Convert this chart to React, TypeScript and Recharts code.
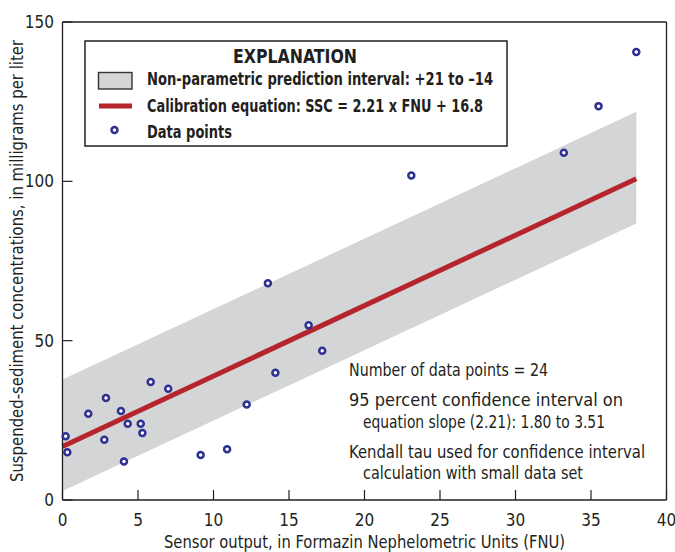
import React from 'react';
import { ComposedChart, Area, Line, Scatter, XAxis, YAxis } from 'recharts';

// Data points: sensor output (FNU) vs suspended-sediment concentration (mg/L)
const fnuValues = [0.21, 0.32, 1.71, 2.77, 2.88, 3.87, 4.07, 4.32, 5.18, 5.29, 5.84, 7.0, 9.15, 10.9, 12.2, 13.6, 14.1, 16.3, 17.2, 23.1, 33.2, 35.5, 38.0];
const sscValues = [20.0, 15.0, 27.1, 18.9, 32.0, 27.9, 12.1, 23.9, 23.9, 21.0, 37.0, 34.9, 14.1, 15.9, 30.0, 68.0, 39.9, 54.8, 46.8, 101.8, 109.0, 123.6, 140.6];

// Calibration line end points and prediction interval (+21 / -14)
const fitX = [0, 38];
const fitSSC = [16.8, 100.8];
const bandUpper = [37.8, 121.8];
const bandLower = [2.8, 86.8];

const xTicks = [0, 5, 10, 15, 20, 25, 30, 35, 40];
const yTicks = [0, 50, 100, 150];

const pointData = fnuValues.map((x, i) => ({ x, y: sscValues[i] }));
const lineData = fitX.map((x, i) => ({ x, fit: fitSSC[i], band: [bandLower[i], bandUpper[i]] }));

const FONT = "'Liberation Sans Narrow', 'DejaVu Sans Condensed', 'Roboto Condensed', Roboto, sans-serif";
const INK = '#231f20';
const BAND = '#d4d5d7';
const RED = '#b7252c';
const BLUE = '#2e3192';

const tickStyle = { fontSize: 17, fill: INK, fontFamily: FONT };
const axisLineStyle = { stroke: INK, strokeWidth: 1.3 };
const tickLineStyle = { stroke: INK, strokeWidth: 1.2 };

const Dot = (props: any) => (
  <circle cx={props.cx} cy={props.cy} r={3} fill="#ffffff" stroke={BLUE} strokeWidth={2.5} />
);

export default function App() {
  return (
    <div style={{ position: 'absolute', left: 0, top: 0, width: 675, height: 552, background: '#fff' }}>
      <ComposedChart
        width={675}
        height={552}
        data={lineData}
        margin={{ top: 21, right: 7.5, bottom: 0, left: 0.5 }}
      >
        <XAxis
          dataKey="x"
          type="number"
          domain={[0, 40]}
          ticks={xTicks}
          interval={0}
          height={52}
          tickSize={-10}
          tickMargin={23.5}
          axisLine={axisLineStyle}
          tickLine={tickLineStyle}
          tick={tickStyle}
        />
        <XAxis
          xAxisId="top"
          orientation="top"
          type="number"
          domain={[0, 40]}
          ticks={xTicks}
          interval={0}
          height={1}
          tickSize={-10}
          tick={false}
          axisLine={axisLineStyle}
          tickLine={tickLineStyle}
        />
        <YAxis
          dataKey="y"
          type="number"
          domain={[0, 150]}
          ticks={yTicks}
          interval={0}
          width={62}
          tickSize={-10}
          tickMargin={18.5}
          axisLine={axisLineStyle}
          tickLine={tickLineStyle}
          tick={tickStyle}
        />
        <YAxis
          yAxisId="right"
          orientation="right"
          type="number"
          domain={[0, 150]}
          ticks={yTicks}
          interval={0}
          width={1}
          tickSize={-10}
          tick={false}
          axisLine={axisLineStyle}
          tickLine={tickLineStyle}
        />
        <Area
          dataKey="band"
          type="linear"
          fill={BAND}
          fillOpacity={1}
          stroke="none"
          isAnimationActive={false}
        />
        <Line
          dataKey="fit"
          type="linear"
          stroke={RED}
          strokeWidth={5}
          dot={false}
          activeDot={false}
          isAnimationActive={false}
        />
        <Scatter data={pointData} dataKey="y" shape={Dot} isAnimationActive={false} />
      </ComposedChart>

      <svg
        width={675}
        height={552}
        style={{ position: 'absolute', left: 0, top: 0, pointerEvents: 'none' }}
        fontFamily={FONT}
      >
        {/* Axis titles */}
        <text x={364.5} y={548} textAnchor="middle" fontSize={17} fill={INK} textLength={401} lengthAdjust="spacingAndGlyphs">
          Sensor output, in Formazin Nephelometric Units (FNU)
        </text>
        <text
          transform="translate(23,261) rotate(-90)"
          x={0}
          y={0}
          textAnchor="middle"
          fontSize={17}
          fill={INK}
          textLength={442}
          lengthAdjust="spacingAndGlyphs"
        >
          Suspended-sediment concentrations, in milligrams per liter
        </text>

        {/* Explanation box */}
        <rect x={85} y={41} width={422} height={105} fill="#ffffff" stroke={INK} strokeWidth={1.5} />
        <text x={233} y={63} fontSize={20} fontWeight="bold" fill={INK} textLength={124} lengthAdjust="spacingAndGlyphs">
          EXPLANATION
        </text>
        <rect x={98.5} y={72.5} width={33.5} height={16.5} fill={BAND} stroke="#333" strokeWidth={1.4} />
        <text x={147} y={85} fontSize={17} fontWeight="bold" fill={INK} textLength={346} lengthAdjust="spacingAndGlyphs">
          Non-parametric prediction interval: +21 to –14
        </text>
        <line x1={99} y1={106} x2={132} y2={106} stroke={RED} strokeWidth={5} />
        <text x={147} y={111.5} fontSize={17} fontWeight="bold" fill={INK} textLength={336} lengthAdjust="spacingAndGlyphs">
          Calibration equation: SSC = 2.21 x FNU + 16.8
        </text>
        <circle cx={114.5} cy={130} r={3} fill="#ffffff" stroke={BLUE} strokeWidth={2.5} />
        <text x={147} y={138} fontSize={17} fontWeight="bold" fill={INK} textLength={85} lengthAdjust="spacingAndGlyphs">
          Data points
        </text>

        {/* Notes */}
        <text x={349} y={376} fontSize={17} fill={INK} textLength={199} lengthAdjust="spacingAndGlyphs">
          Number of data points = 24
        </text>
        <text x={349} y={405.5} fontSize={17} fill={INK} textLength={274} lengthAdjust="spacingAndGlyphs">
          95 percent confidence interval on
        </text>
        <text x={363} y={427.5} fontSize={17} fill={INK} textLength={242} lengthAdjust="spacingAndGlyphs">
          equation slope (2.21): 1.80 to 3.51
        </text>
        <text x={349} y={457.5} fontSize={17} fill={INK} textLength={296} lengthAdjust="spacingAndGlyphs">
          Kendall tau used for confidence interval
        </text>
        <text x={363} y={479} fontSize={17} fill={INK} textLength={220} lengthAdjust="spacingAndGlyphs">
          calculation with small data set
        </text>
      </svg>
    </div>
  );
}
